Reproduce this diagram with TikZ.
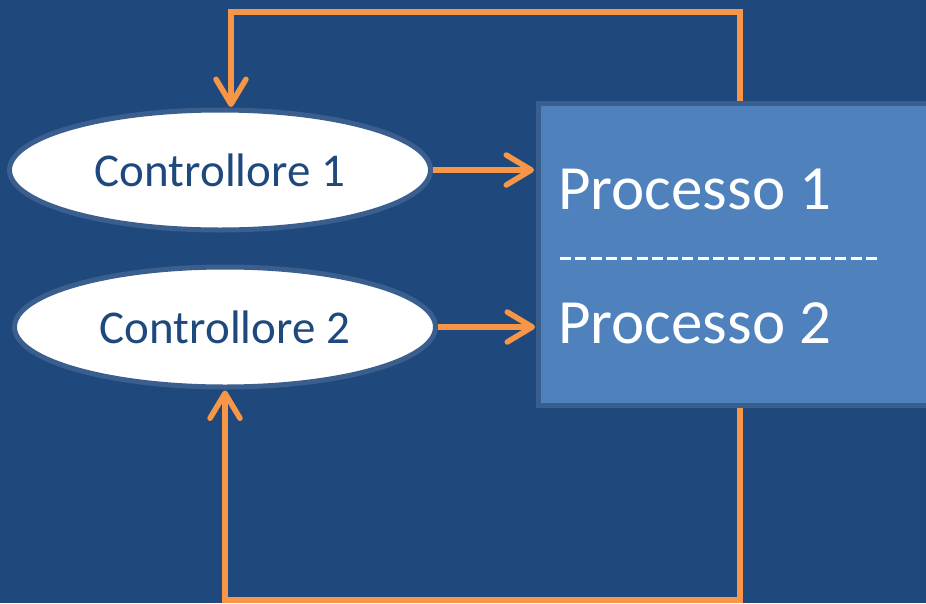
\documentclass[tikz,border=0pt]{standalone}
\usepackage{fontspec}
\setmainfont{Carlito}
\usetikzlibrary{shapes.geometric,arrows.meta}
\definecolor{sfondo}{RGB}{31,73,125}
\definecolor{azzurro}{RGB}{79,129,189}
\definecolor{bordo}{RGB}{58,94,142}
\definecolor{arancio}{RGB}{247,150,70}

\begin{document}
\begin{tikzpicture}[x=1pt,y=-1pt, %Unità in punti, asse y verso il basso
	controllore/.style={ellipse, draw=bordo, line width=5pt, fill=white, minimum width=421pt, minimum height=120pt, text=sfondo, font=\fontsize{47}{56}\selectfont},
	processo/.style={rectangle, draw=bordo, line width=5pt, fill=azzurro, minimum width=411pt, minimum height=302pt},
	testo/.style={text=white, font=\fontsize{63}{75}\selectfont, anchor=base west, inner sep=0pt},
	freccia/.style={draw=arancio, line width=5.5pt, -{Straight Barb[length=25pt,width=30pt,round]}}]
				%Sfondo
			\fill[sfondo] (0,0) rectangle (926,603);
			\useasboundingbox (0,0) rectangle (926,603);
			\clip (0,0) rectangle (926,603);
				%Blocchi
			\node[processo] (proc) at (744,254.5) {}; %Blocco dei processi
			\node[testo] (proc1) at (558,209) {Processo 1}; %Primo processo
			\node[testo] (proc2) at (558,343) {Processo 2}; %Secondo processo
			\draw[white, line width=3pt, dash pattern=on 11pt off 4.3pt] (560,258) -- (879,258); %Separatore
			\node[controllore] (ctrl1) at (220,170) {Controllore 1}; %Primo controllore
			\node[controllore] (ctrl2) at (225,327) {Controllore 2}; %Secondo controllore
				%Frecce
			\draw[freccia, shorten >=2pt] (ctrl1.east) -- (ctrl1.east -| proc.west); %Azione 1
			\draw[freccia, shorten >=1pt] (ctrl2.east) -- (ctrl2.east -| proc.west); %Azione 2
				%Retroazioni
			\coordinate (su) at (740,12);
			\coordinate (giu) at (740,600);
			\draw[freccia, shorten >=3pt] (proc.north -| su) -- (su) -- (231,12) -- (231,110); %Retroazione 1
			\draw[freccia, shorten >=1pt] (proc.south -| giu) -- (giu) -- (giu -| ctrl2.south) -- (ctrl2.south); %Retroazione 2
\end{tikzpicture}
\end{document}
